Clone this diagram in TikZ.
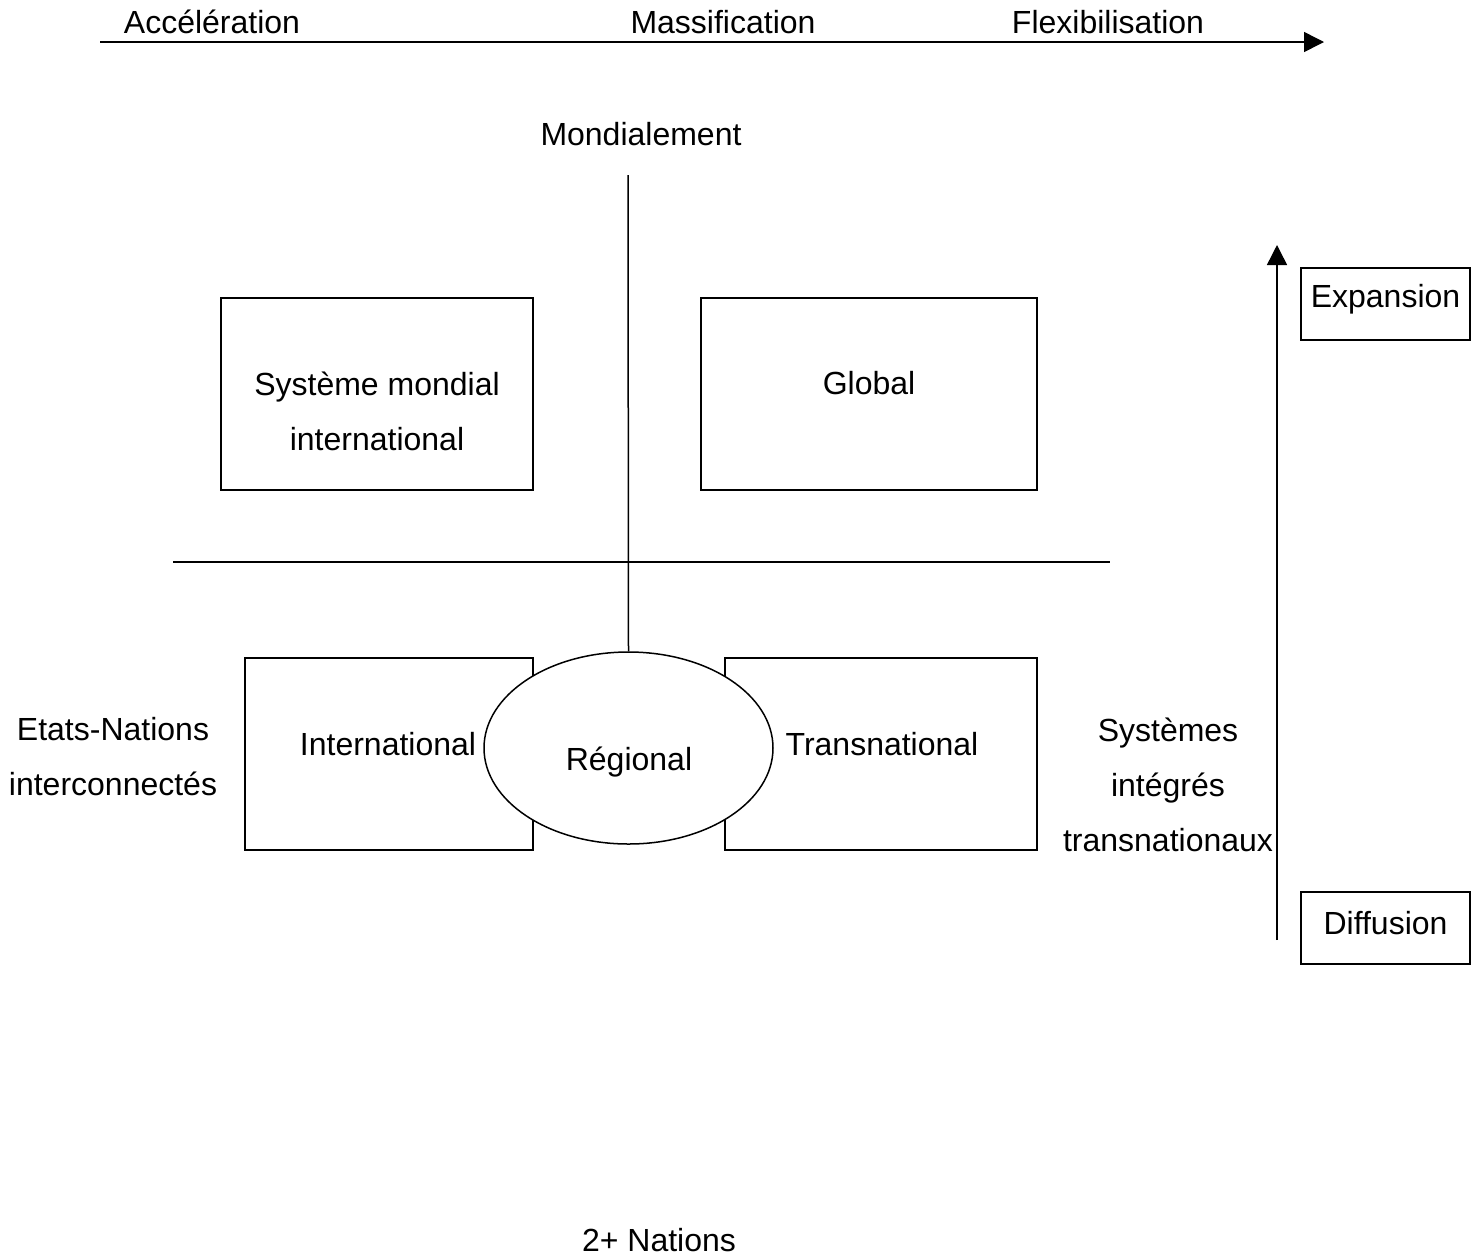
\documentclass[tikz,border=0pt]{standalone}
\usepackage{fontspec}
\setmainfont{Liberation Sans}
\usetikzlibrary{shapes.geometric,arrows.meta}
\begin{document}
\begin{tikzpicture}[x=0.75pt,y=-0.75pt,
  every node/.style={font=\fontsize{24}{28}\selectfont, inner sep=0pt},
  lbl/.style={align=center},
  ln/.style={line width=1.125pt},
  boxx/.style={draw, line width=1.125pt},
  tri/.style={-{Triangle[length=15pt,width=15pt]}}]
\useasboundingbox[fill=white] (0,0) rectangle (1479,1258);
% top axis
\coordinate (ta0) at (100,42);
\coordinate (ta1) at (1324,42);
\draw[ln,tri] (ta0) -- (ta1);
\node[lbl] (acc) at (212,22) {Accélération};
\node[lbl] (mas) at (723,22) {Massification};
\node[lbl] (flex) at (1108,22) {Flexibilisation};
\node[lbl] (mond) at (641,134) {Mondialement};
% boxes
\draw[boxx] (221,298) rectangle (533,490);
\node[lbl] (sm) at (377,411) {Système mondial\\[0.55em]international};
\draw[boxx] (701,298) rectangle (1037,490);
\node[lbl] (glob) at (869,383) {Global};
\draw[boxx] (245,658) rectangle (533,850);
\node[lbl] (intl) at (388,744) {International};
\draw[boxx] (725,658) rectangle (1037,850);
\node[lbl] (trans) at (882,744) {Transnational};
% cross lines
\coordinate (v0) at (628,175);
\coordinate (h0) at (173,562);
\coordinate (h1) at (1110,562);
\draw[ln] (h0) -- (h1);
\node[ellipse, draw, line width=1.125pt, fill=white, minimum width=216.75pt, minimum height=144pt] (reg) at (628.5,748) {};
\node[lbl] (regt) at (629,762) {Régional};
\draw[ln] (v0) -- (reg.north);
% side labels
\node[lbl] (etats) at (113,757) {Etats-Nations\\[0.55em]interconnectés};
\node[lbl] (sys) at (1168,785) {Systèmes\\[0.55em]intégrés\\[0.55em]transnationaux};
% vertical arrow
\coordinate (va0) at (1277,940);
\coordinate (va1) at (1277,245);
\draw[ln,tri] (va0) -- (va1);
\draw[boxx] (1301,268) rectangle (1470,340);
\node[lbl] (exp) at (1385.5,299) {Expansion};
\draw[boxx] (1301,892) rectangle (1470,964);
\node[lbl] (diff) at (1385.5,923) {Diffusion};
\node[lbl] (nat) at (659,1240) {2+ Nations};
\end{tikzpicture}
\end{document}
